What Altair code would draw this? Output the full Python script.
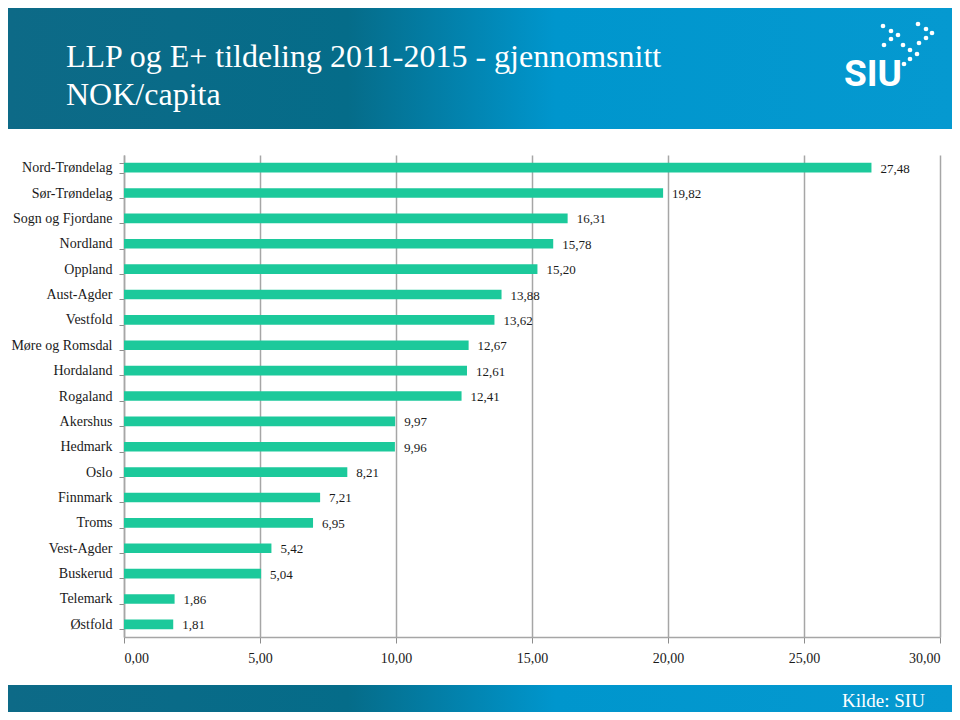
import altair as alt
import pandas as pd

# ---- data ----
regions = ["Nord-Trøndelag", "Sør-Trøndelag", "Sogn og Fjordane", "Nordland", "Oppland",
           "Aust-Agder", "Vestfold", "Møre og Romsdal", "Hordaland", "Rogaland",
           "Akershus", "Hedmark", "Oslo", "Finnmark", "Troms", "Vest-Agder",
           "Buskerud", "Telemark", "Østfold"]
values = [27.48, 19.82, 16.31, 15.78, 15.20, 13.88, 13.62, 12.67, 12.61, 12.41,
          9.97, 9.96, 8.21, 7.21, 6.95, 5.42, 5.04, 1.86, 1.81]
x_ticks = [0, 5, 10, 15, 20, 25, 30]

title_lines = ["LLP og E+ tildeling 2011-2015 - gjennomsnitt", "NOK/capita"]
source_text = "Kilde: SIU"

# logo dot decoration (pixel offsets relative to plot area)
logo_dx = [759, 767, 774, 767, 760, 779, 786, 793, 786, 780, 794, 802, 808, 802, 795]
logo_dy = [-129, -124, -120, -116, -110, -110, -105, -101, -96, -91, -131, -126, -122, -117, -112]

df = pd.DataFrame({"region": regions, "value": values})

W, H = 816, 482
PAD = {"left": 116, "top": 147, "right": 12, "bottom": 75}

SERIF = "Liberation Serif"
BAR = "#1cc99b"

grad = alt.Gradient(
    gradient="linear",
    stops=[alt.GradientStop(color="#0d6a87", offset=0),
           alt.GradientStop(color="#056c89", offset=0.36),
           alt.GradientStop(color="#0096cd", offset=0.58),
           alt.GradientStop(color="#0599d0", offset=1)],
    x1=0, x2=1, y1=0, y2=0)

one = alt.Data(values=[{"a": 1}])

header = alt.Chart(one).mark_rect(fill=grad).encode(
    x=alt.value(-116), x2=alt.value(W + 12), y=alt.value(-147), y2=alt.value(-26))
footer = alt.Chart(one).mark_rect(fill=grad).encode(
    x=alt.value(-116), x2=alt.value(W + 12), y=alt.value(H + 48), y2=alt.value(H + 75))

title1 = alt.Chart(one).mark_text(
    text=title_lines[0], align="left", baseline="alphabetic", font=SERIF,
    fontSize=32, color="white").encode(x=alt.value(-58), y=alt.value(-88))
title2 = alt.Chart(one).mark_text(
    text=title_lines[1], align="left", baseline="alphabetic", font=SERIF,
    fontSize=32, color="white").encode(x=alt.value(-58), y=alt.value(-50))

siu = alt.Chart(one).mark_text(
    text="SIU", align="left", baseline="alphabetic", font="Roboto",
    fontWeight="bold", fontSize=37, color="white").encode(
    x=alt.value(720), y=alt.value(-69))

dots_df = pd.DataFrame({"px": logo_dx, "py": logo_dy})
dots = alt.Chart(dots_df).mark_circle(color="white", opacity=1, size=22).encode(
    x=alt.value({"expr": "datum.px"}), y=alt.value({"expr": "datum.py"}))

source = alt.Chart(one).mark_text(
    text=source_text, align="left", baseline="alphabetic", font=SERIF,
    fontSize=19, color="white").encode(x=alt.value(718), y=alt.value(H + 70))

fmt = "replace(format(datum.value, '.2f'), '.', ',')"

y_enc = alt.Y("region:N", sort=None, title=None,
              scale=alt.Scale(paddingInner=0.62, paddingOuter=0.31),
              axis=alt.Axis(tickBand="extent", tickSize=5, tickColor="#8c8c8c",
                            domainColor="#a6a6a6", domainWidth=1.5,
                            labelFont=SERIF, labelFontSize=14, labelColor="#1a1a1a",
                            labelPadding=7, grid=False))
x_enc = alt.X("value:Q", title=None,
              scale=alt.Scale(domain=[0, 30], nice=False),
              axis=alt.Axis(values=x_ticks, labelExpr=fmt, tickSize=6,
                            tickColor="#8c8c8c", domainColor="#a6a6a6", domainWidth=1.5,
                            grid=True, gridColor="#a6a6a6", gridWidth=1.5,
                            labelFont=SERIF, labelFontSize=14, labelColor="#1a1a1a",
                            labelPadding=8))

bars = alt.Chart(df).mark_bar(color=BAR).encode(x=x_enc, y=y_enc)
labels = alt.Chart(df).transform_calculate(lbl=fmt).mark_text(
    align="left", baseline="middle", dx=9, dy=1, font=SERIF, fontSize=13,
    color="#1a1a1a").encode(x="value:Q", y=alt.Y("region:N", sort=None), text="lbl:N")

chart = alt.layer(header, footer, title1, title2, dots, siu, source, bars, labels).properties(
    width=W, height=H,
    autosize=alt.AutoSizeParams(type="none"),
    padding=PAD,
    background="white",
).configure_view(stroke="transparent", strokeWidth=0)

chart.save("out.html", embed_options={"renderer": "svg", "actions": False})
